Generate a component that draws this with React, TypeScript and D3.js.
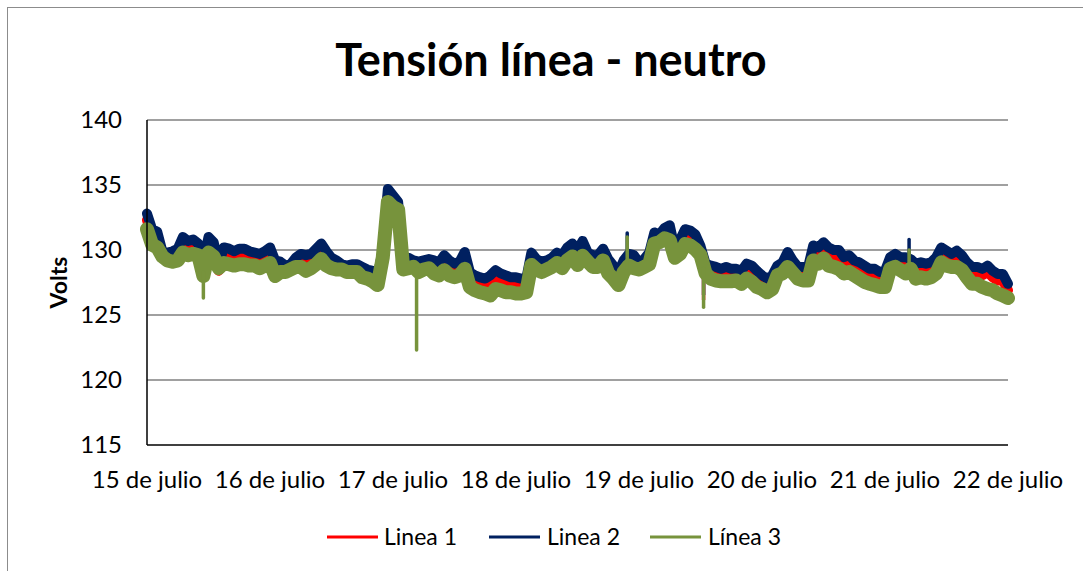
import React from 'react';
import * as d3 from 'd3';

// hourly readings, 15 de julio 00:00 -> 22 de julio 00:00
const dayLabels = ['15 de julio', '16 de julio', '17 de julio', '18 de julio', '19 de julio', '20 de julio', '21 de julio', '22 de julio'];
const yTicks = [115, 120, 125, 130, 135, 140];

const linea1 = [
  132.3, 131.1, 130.9, 129.4, 129.3, 129.4, 129.6, 130.5, 130.2, 130.3, 130.0, 128.6, 130.5, 130.1, 128.4, 129.7, 129.6, 129.4, 129.6, 129.6, 129.4, 129.3, 129.2, 129.4,
  129.7, 128.7, 128.6, 128.3, 128.4, 128.9, 129.2, 129.1, 129.2, 129.6, 130.0, 129.4, 128.9, 128.7, 128.4, 128.3, 128.4, 128.4, 128.2, 128.0, 127.9, 127.5, 129.5, 134.2,
  133.7, 133.2, 128.8, 128.9, 128.7, 128.6, 128.7, 128.8, 128.7, 128.55, 129.1, 128.7, 128.45, 128.6, 129.35, 127.8, 127.55, 127.4, 127.3, 127.55, 127.95, 127.7, 127.55, 127.4,
  127.4, 127.3, 127.3, 129.3, 128.8, 128.6, 128.7, 128.9, 129.3, 129.1, 129.7, 130.0, 129.5, 130.2, 129.3, 129.1, 129.1, 129.6, 128.8, 128.3, 127.8, 128.7, 129.2, 129.1,
  128.55, 128.8, 129.3, 130.85, 130.7, 131.2, 131.4, 129.6, 130.3, 131.1, 131.0, 130.7, 129.8, 128.45, 128.3, 128.2, 128.05, 128.2, 128.05, 128.05, 127.9, 128.45, 128.3, 127.9,
  127.55, 127.3, 127.55, 128.3, 128.55, 129.35, 128.7, 128.2, 128.2, 128.2, 129.85, 129.7, 130.1, 129.7, 129.5, 129.5, 128.95, 129.1, 128.7, 128.55, 128.3, 128.05, 128.05, 127.8,
  127.9, 128.95, 129.2, 128.95, 128.95, 128.8, 128.45, 128.55, 128.45, 128.55, 128.95, 129.7, 129.45, 129.2, 129.45, 129.1, 128.55, 128.2, 128.2, 128.05, 128.3, 127.9, 127.65, 127.65,
  126.9,
];

const linea2 = [
  132.8, 131.6, 131.4, 129.9, 129.8, 129.9, 130.1, 131.0, 130.7, 130.8, 130.5, 129.1, 131.0, 130.6, 128.9, 130.2, 130.1, 129.9, 130.1, 130.1, 129.9, 129.8, 129.7, 129.9,
  130.2, 129.2, 129.1, 128.8, 128.9, 129.4, 129.7, 129.6, 129.7, 130.1, 130.5, 129.9, 129.4, 129.2, 128.9, 128.8, 128.9, 128.9, 128.7, 128.5, 128.4, 128.0, 130.0, 134.7,
  134.2, 133.7, 129.3, 129.4, 129.2, 129.1, 129.2, 129.3, 129.2, 129.05, 129.6, 129.2, 128.95, 129.1, 129.85, 128.3, 128.05, 127.9, 127.8, 128.05, 128.45, 128.2, 128.05, 127.9,
  127.9, 127.8, 127.8, 129.8, 129.3, 129.1, 129.2, 129.4, 129.8, 129.6, 130.2, 130.5, 130.0, 130.7, 129.8, 129.6, 129.6, 130.1, 129.3, 128.8, 128.3, 129.2, 129.7, 129.6,
  129.05, 129.3, 129.8, 131.35, 131.2, 131.7, 131.9, 130.1, 130.8, 131.6, 131.5, 131.2, 130.3, 128.95, 128.8, 128.7, 128.55, 128.7, 128.55, 128.55, 128.4, 128.95, 128.8, 128.4,
  128.05, 127.8, 128.05, 128.8, 129.05, 129.85, 129.2, 128.7, 128.7, 128.7, 130.35, 130.2, 130.6, 130.2, 130.0, 130.0, 129.45, 129.6, 129.2, 129.05, 128.8, 128.55, 128.55, 128.3,
  128.4, 129.45, 129.7, 129.45, 129.45, 129.3, 128.95, 129.05, 128.95, 129.05, 129.45, 130.2, 129.95, 129.7, 129.95, 129.6, 129.05, 128.7, 128.7, 128.55, 128.8, 128.4, 128.15, 128.15,
  127.4,
];

const linea3 = [
  131.6, 130.4, 130.2, 129.5, 129.2, 129.1, 129.2, 129.8, 129.6, 129.7, 129.6, 128.0, 129.8, 129.5, 128.6, 129.0, 128.9, 128.8, 128.9, 128.9, 128.8, 128.8, 128.6, 128.8,
  129.0, 128.0, 128.3, 128.3, 128.5, 128.7, 128.7, 128.4, 128.6, 128.9, 129.3, 128.8, 128.6, 128.5, 128.5, 128.3, 128.3, 128.3, 127.9, 127.8, 127.6, 127.3, 129.4, 133.7,
  133.3, 133.1, 128.5, 128.6, 128.7, 128.3, 128.5, 128.6, 128.2, 128.05, 128.45, 128.05, 127.9, 128.05, 128.55, 127.15, 126.9, 126.75, 126.65, 126.5, 127.0, 126.9, 126.75, 126.75,
  126.65, 126.65, 126.75, 128.85, 128.5, 128.3, 128.5, 128.7, 129.0, 128.6, 129.2, 129.5, 128.85, 129.55, 129.1, 128.7, 128.7, 129.2, 128.2, 127.8, 127.3, 128.3, 128.8, 128.6,
  128.5, 128.7, 128.9, 130.5, 130.6, 130.9, 130.75, 129.4, 129.7, 130.45, 130.35, 130.05, 129.6, 128.2, 127.8, 127.65, 127.6, 127.6, 127.6, 127.65, 127.4, 127.8, 127.55, 127.15,
  127.0, 126.75, 127.0, 128.05, 128.2, 128.7, 128.25, 127.8, 127.65, 127.65, 129.2, 128.95, 129.35, 128.8, 128.7, 128.55, 128.2, 128.3, 128.05, 127.8, 127.55, 127.4, 127.3, 127.15,
  127.15, 128.55, 128.7, 128.45, 128.2, 128.55, 127.8, 127.9, 127.8, 127.9, 128.2, 129.05, 128.8, 128.7, 128.7, 128.45, 127.9, 127.4, 127.4, 127.15, 127.0, 126.9, 126.65, 126.5,
  126.3,
];

// short-lived peaks between the hourly readings: [hour, base, peak]
const spikes1 = [[108.6, 128.8, 126.2]];
const spikes2 = [[46.0, 130.0, 131.3], [93.7, 129.5, 131.3], [148.7, 129.4, 130.8], [108.6, 129.4, 126.6]];
const spikes3 = [[11.0, 128.3, 126.3], [52.6, 128.6, 122.3], [108.6, 128.6, 125.6], [93.7, 128.6, 131.0], [148.7, 128.4, 130.0]];

const series = [
  { name: 'Linea 1', values: linea1, spikes: spikes1, color: '#ff0000', width: 10 },
  { name: 'Linea 2', values: linea2, spikes: spikes2, color: '#002060', width: 10 },
  { name: 'Línea 3', values: linea3, spikes: spikes3, color: '#77933c', width: 14 },
];

const W = 1083;
const H = 571;
const font = 'Lato, "Noto Sans", sans-serif';

export default function App() {
  const left = 147, right = 1008, top = 120, bottom = 445;
  const x = d3.scaleLinear().domain([0, (dayLabels.length - 1) * 24]).range([left, right]);
  const y = d3.scaleLinear().domain([115, 140]).range([bottom, top]);

  const line = d3.line<number>()
    .x((d, i) => x(i))
    .y(d => y(d));

  // legend positions
  const legend = [
    { x: 327, tx: 384 },
    { x: 489, tx: 547 },
    { x: 650, tx: 708 },
  ];

  return (
    <svg width={W} height={H} style={{ position: 'absolute', left: 0, top: 0, background: '#fff' }} fontFamily={font}>
      <rect x={7.5} y={7.5} width={W + 20} height={H + 20} fill="#fff" stroke="#8c8c8c" />

      <text x={551} y={76} textAnchor="middle" fontSize={45} fontWeight="bold">Tensión línea - neutro</text>

      {yTicks.map(t => (
        <g key={t}>
          {t !== 115 && <line x1={left} x2={right} y1={y(t)} y2={y(t)} stroke="#a0a0a0" strokeWidth={2} />}
          <text x={122} y={y(t)} dy="0.35em" textAnchor="end" fontSize={24}>{t}</text>
        </g>
      ))}

      <text transform={`translate(67,${(top + bottom) / 2}) rotate(-90)`} textAnchor="middle" fontSize={23} fontWeight="bold">Volts</text>

      <g strokeLinejoin="round" strokeLinecap="round" fill="none">
        {series.map(s => (
          <g key={s.name} stroke={s.color}>
            <path d={line(s.values) || ''} strokeWidth={s.width} />
            {s.spikes.map(([h, base, peak]) => (
              <line key={h} x1={x(h)} x2={x(h)} y1={y(base)} y2={y(peak)} strokeWidth={3.5} />
            ))}
          </g>
        ))}
      </g>

      <line x1={left} x2={left} y1={top} y2={bottom} stroke="#000" strokeWidth={1.5} />
      <line x1={left} x2={right} y1={bottom} y2={bottom} stroke="#000" strokeWidth={1.5} />

      {dayLabels.map((d, i) => (
        <text key={d} x={x(i * 24)} y={488} textAnchor="middle" fontSize={24}>{d}</text>
      ))}

      {series.map((s, i) => (
        <g key={s.name}>
          <line x1={legend[i].x} x2={legend[i].x + 51} y1={537} y2={537} stroke={s.color} strokeWidth={3} />
          <text x={legend[i].tx} y={537} dy="0.35em" fontSize={23}>{s.name}</text>
        </g>
      ))}
    </svg>
  );
}
